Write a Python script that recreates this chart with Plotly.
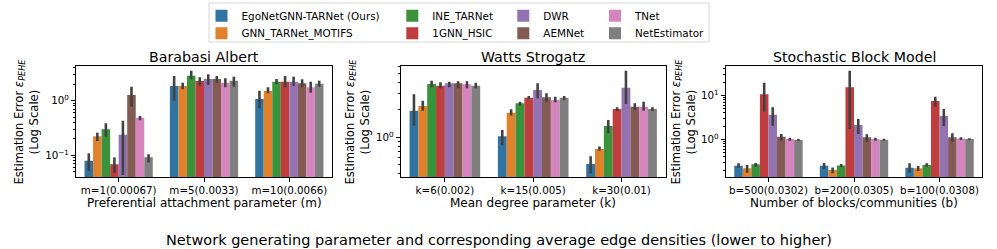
import plotly.graph_objects as go

W, H = 997, 249

methods = ["EgoNetGNN-TARNet (Ours)", "GNN_TARNet_MOTIFS", "INE_TARNet", "1GNN_HSIC",
           "DWR", "AEMNet", "TNet", "NetEstimator"]
colors = ["#3274a1", "#e1812c", "#3a923a", "#c03d3e", "#9372b2", "#845b53", "#d684bd", "#7f7f7f"]

ba_cats = ["m=1(0.00067)", "m=5(0.0033)", "m=10(0.0066)"]
ws_cats = ["k=6(0.002)", "k=15(0.005)", "k=30(0.01)"]
sbm_cats = ["b=500(0.0302)", "b=200(0.0305)", "b=100(0.0308)"]

# Barabasi Albert: mean, lower CI, upper CI (per method, per category)
ba_mean = [[0.080, 1.86, 1.07], [0.223, 1.86, 1.50], [0.30, 2.86, 2.22], [0.069, 2.29, 2.22],
           [0.239, 2.49, 2.22], [1.27, 2.49, 2.08], [0.489, 2.13, 1.76], [0.092, 2.32, 2.05]]
ba_low = [[0.052, 1.00, 0.73], [0.183, 1.62, 1.37], [0.22, 2.46, 2.02], [0.048, 1.88, 1.76],
          [0.044, 1.94, 1.86], [0.78, 2.13, 1.76], [0.44, 1.76, 1.40], [0.074, 1.80, 1.80]]
ba_high = [[0.109, 2.83, 1.52], [0.26, 2.13, 1.76], [0.386, 3.53, 2.49], [0.092, 2.68, 2.83],
           [0.43, 3.04, 2.75], [1.80, 2.83, 2.46], [0.525, 2.57, 2.22], [0.105, 2.75, 2.32]]

# Watts Strogatz
ws_mean = [[1.96, 1.03, 0.509], [2.21, 1.86, 0.743], [3.85, 2.36, 1.33], [3.69, 2.72, 2.05],
           [3.92, 3.31, 3.51], [3.92, 2.75, 2.17], [3.82, 2.57, 2.17], [3.69, 2.72, 2.05]]
ws_low = [[1.34, 0.82, 0.40], [1.96, 1.73, 0.71], [3.54, 2.22, 1.11], [3.45, 2.62, 1.95],
          [3.54, 2.68, 2.32], [3.45, 2.46, 2.00], [3.45, 2.43, 1.96], [3.45, 2.57, 1.95]]
ws_high = [[2.97, 1.20, 0.62], [2.52, 2.03, 0.79], [4.19, 2.46, 1.55], [4.02, 2.84, 2.14],
           [4.08, 3.92, 5.39], [4.12, 3.05, 2.36], [4.12, 2.79, 2.46], [3.98, 2.84, 2.14]]

# Stochastic Block Model
sbm_mean = [[0.251, 0.251, 0.226], [0.219, 0.200, 0.219], [0.270, 0.255, 0.260], [10.5, 15.2, 7.42],
            [3.62, 2.11, 3.39], [1.15, 1.11, 1.11], [1.02, 1.02, 1.04], [0.96, 0.98, 1.02]]
sbm_low = [[0.226, 0.210, 0.174], [0.174, 0.169, 0.190], [0.238, 0.235, 0.238], [4.24, 1.71, 5.51],
           [2.04, 1.32, 2.00], [0.93, 0.88, 0.88], [0.93, 0.93, 0.96], [0.91, 0.93, 0.96]]
sbm_high = [[0.285, 0.290, 0.285], [0.260, 0.230, 0.247], [0.290, 0.275, 0.285], [19.3, 36.0, 9.29],
            [5.34, 2.89, 4.89], [1.32, 1.30, 1.37], [1.09, 1.09, 1.11], [1.01, 1.03, 1.06]]

titles = ["Barabasi Albert", "Watts Strogatz", "Stochastic Block Model"]
xlabels = ["Preferential attachment parameter (m)", "Mean degree parameter (k)",
           "Number of blocks/communities (b)"]
sup_xlabel = "Network generating parameter and corresponding average edge densities (lower to higher)"
ylabel = "Estimation Error <i>ε<sub>PEHE</sub></i><br>(Log Scale)"

panels = [(ba_cats, ba_mean, ba_low, ba_high),
          (ws_cats, ws_mean, ws_low, ws_high),
          (sbm_cats, sbm_mean, sbm_low, sbm_high)]

# layout geometry (pixels)
x_dom_px = [(76, 332), (400.7, 665.7), (725.7, 982.3)]
y_dom_px = (66, 177)
y_ranges = [(-1.395, 0.634), (-0.436, 0.783), (-0.857, 1.666)]
ylabel_x_px = [26, 357, 683]
legend_col_x_px = [201.5, 392.3, 503.3, 595]
legend_row_y_px = [15.7, 33.3]

FONT = "DejaVu Sans"
fig = go.Figure()

legend_ids = ["legend" if i == 0 else "legend%d" % (i + 1) for i in range(len(methods))]

for gi, (cats, mean, low, high) in enumerate(panels):
    ax = "" if gi == 0 else str(gi + 1)
    for mi, name in enumerate(methods):
        m = mean[mi]
        fig.add_trace(go.Bar(
            x=cats, y=m, name=name,
            marker=dict(color=colors[mi], line=dict(width=0)),
            error_y=dict(type="data", symmetric=False,
                         array=[h - v for h, v in zip(high[mi], m)],
                         arrayminus=[v - l for v, l in zip(m, low[mi])],
                         color="#424242", thickness=2.6, width=0),
            showlegend=(gi == 0),
            legend=legend_ids[mi],
            xaxis="x" + ax, yaxis="y" + ax,
        ))

minor_vals = [k * 10 ** e for e in range(-3, 3) for k in range(2, 10)]
major_vals = [0.01, 0.1, 1, 10, 100]
major_text = ["10<sup>−2</sup>", "10<sup>−1</sup>", "10<sup>0</sup>", "10<sup>1</sup>", "10<sup>2</sup>"]

layout = dict(
    width=W, height=H,
    margin=dict(l=0, r=0, t=0, b=0),
    paper_bgcolor="white", plot_bgcolor="white",
    barmode="group", bargap=0.2, bargroupgap=0,
    font=dict(family=FONT, color="black"),
    annotations=[], shapes=[],
)

axis_common = dict(showline=True, mirror=True, linecolor="black", linewidth=1,
                   ticks="outside", ticklen=4, tickwidth=1, tickcolor="black",
                   showgrid=False, zeroline=False, tickfont=dict(size=10.3, color="black"))

ydom = [1 - y_dom_px[1] / H, 1 - y_dom_px[0] / H]
for gi in range(3):
    ax = "" if gi == 0 else str(gi + 1)
    x0, x1 = x_dom_px[gi]
    layout["xaxis" + ax] = dict(axis_common, domain=[x0 / W, x1 / W], range=[-0.5, 2.5],
                                anchor="y" + ax, type="category")
    layout["yaxis" + ax] = dict(axis_common, domain=ydom, type="log", range=list(y_ranges[gi]),
                                anchor="x" + ax, tickmode="array", tickvals=major_vals,
                                ticktext=major_text,
                                minor=dict(ticks="outside", ticklen=2, tickwidth=0.8,
                                           tickcolor="black", tickmode="array",
                                           tickvals=minor_vals, showgrid=False))
    xc = (x0 + x1) / 2 / W
    layout["annotations"].append(dict(text=titles[gi], x=xc, y=1 - 57 / H, xref="paper", yref="paper",
                                      showarrow=False, xanchor="center", yanchor="middle",
                                      font=dict(size=14.2, color="black")))
    layout["annotations"].append(dict(text=xlabels[gi], x=xc, y=1 - 203 / H, xref="paper", yref="paper",
                                      showarrow=False, xanchor="center", yanchor="middle",
                                      font=dict(size=12, color="black")))
    layout["annotations"].append(dict(text=ylabel, x=ylabel_x_px[gi] / W, y=1 - 121.5 / H,
                                      xref="paper", yref="paper", textangle=-90,
                                      showarrow=False, xanchor="center", yanchor="middle",
                                      font=dict(size=11.6, color="black")))

layout["annotations"].append(dict(text=sup_xlabel, x=0.5, y=1 - 240 / H, xref="paper", yref="paper",
                                  showarrow=False, xanchor="center", yanchor="middle",
                                  font=dict(size=14.5, color="black")))

for mi, lid in enumerate(legend_ids):
    col, row = mi // 2, mi % 2
    layout[lid] = dict(x=legend_col_x_px[col] / W, y=1 - legend_row_y_px[row] / H,
                       xanchor="left", yanchor="middle",
                       bgcolor="rgba(0,0,0,0)", borderwidth=0, tracegroupgap=0,
                       font=dict(size=10.4, color="black"), orientation="v")

layout["shapes"].append(dict(type="rect", xref="paper", yref="paper",
                             x0=209 / W, x1=709 / W, y0=1 - 42 / H, y1=1 - 3 / H,
                             line=dict(color="#d6d6d6", width=1), fillcolor="white", layer="below"))

fig.update_layout(**layout)
fig.write_html("out.html", config={"displayModeBar": False},
               post_script="document.body.style.margin='0';document.body.style.overflow='hidden';")
